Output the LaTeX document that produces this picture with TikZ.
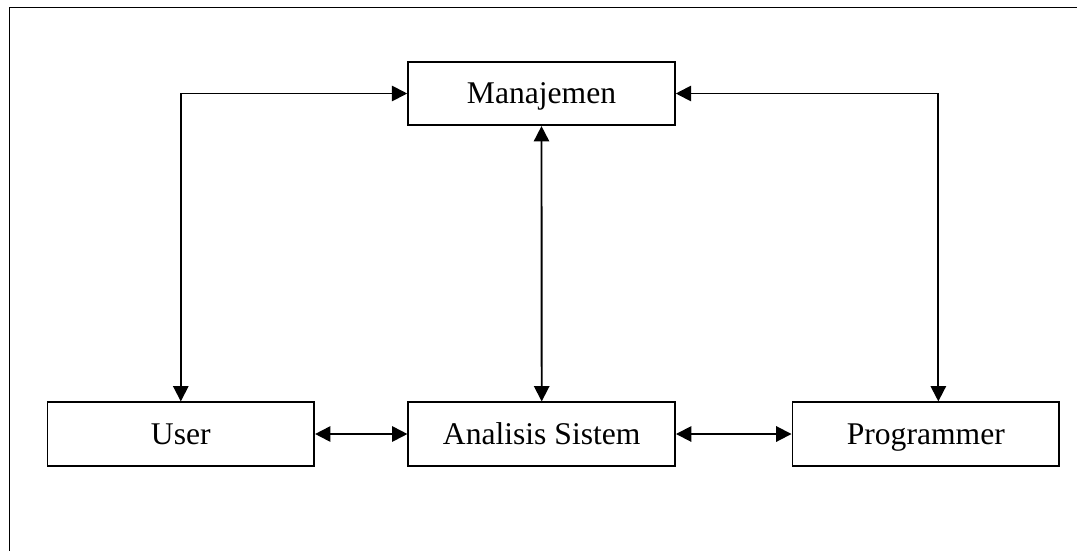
\documentclass[tikz,border=0pt]{standalone}
\usepackage{fontspec}
\setmainfont{Liberation Serif}
\usetikzlibrary{arrows.meta}

\begin{document}
\begin{tikzpicture}[x=0.75pt,y=-0.75pt,
    every node/.style={font=\fontsize{23.7}{28}\selectfont},
    kotak/.style={draw,line width=1.4pt,minimum width=200pt,minimum height=47.5pt,inner sep=0pt,
        text height=15.6pt,text depth=0pt},
    panah/.style={{Triangle[length=11.5pt,width=11.5pt]}-{Triangle[length=11.5pt,width=11.5pt]},line width=1.4pt}]
    \useasboundingbox (0,0) rectangle (1077,550);
    \draw[line width=1.4pt] (9.5,570) -- (9.5,7.5) -- (1090,7.5);
    % kotak-kotak
    \node[kotak] (man) at (541.5,93.5) {Manajemen};
    \node[kotak] (user) at (180.8,434) {User};
    \node[kotak] (ana) at (541.7,434) {Analisis Sistem};
    \node[kotak] (prog) at (925.8,434) {Programmer};
    \coordinate (progatas) at ([xshift=9.4pt]prog.north);
    % panah
    \draw[panah] (man.west) -| (user.north);
    \draw[panah] (man.east) -| (progatas);
    \draw[panah] (man.south) -- (ana.north);
    \draw[panah] (user.east) -- (ana.west);
    \draw[panah] (ana.east) -- (prog.west);
\end{tikzpicture}
\end{document}
